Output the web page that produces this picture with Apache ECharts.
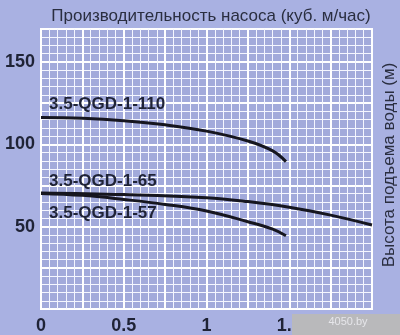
<!DOCTYPE html>
<html><head><meta charset="utf-8">
<script src="https://cdn.jsdelivr.net/npm/echarts@6/dist/echarts.min.js"></script>
<style>html,body{margin:0;padding:0;background:#a9b1e2;}#c{width:400px;height:335px;}</style>
</head><body><div id="c"></div>
<script>
var titleText = 'Производительность насоса (куб. м/час)';
var yTitleText = 'Высота подъема воды (м)';
var xLabels = [0, 0.5, 1, 1.5, 2];
var yLabels = [50, 100, 150];
var seriesNames = ['3.5-QGD-1-110', '3.5-QGD-1-65', '3.5-QGD-1-57'];
var s110 = [[0,116.3],[0.25,115.8],[0.5,114.3],[0.75,111.8],[1.0,108],[1.25,102],[1.4,96],[1.48,89.5]];
var s65  = [[0,70.5],[0.5,69.5],[1.0,67.6],[1.25,65.2],[1.5,61.8],[1.75,57],[2.0,51]];
var s57  = [[0,70.2],[0.25,69],[0.5,66.5],[0.75,63.5],[1.0,59.5],[1.25,53],[1.4,48.5],[1.48,44.5]];

var textColor = '#1f2336';
var lineColor = '#16161f';
var chart = echarts.init(document.getElementById('c'), null, {renderer:'canvas'});
function isLabel(v, arr){ for (var i=0;i<arr.length;i++){ if (Math.abs(v-arr[i])<1e-6) return true;} return false; }
chart.setOption({
  animation:false,
  backgroundColor:'#a9b1e2',
  title:{text:titleText, left:206, textAlign:'center', top:3,
    textStyle:{fontFamily:'Liberation Sans', fontWeight:'normal', fontSize:17, color:'#2a2e40'}},
  grid:{left:41, top:29, right:28, bottom:25, show:true, backgroundColor:'#a2aadb', borderColor:'#ffffff', borderWidth:2},
  xAxis:[{type:'value', min:0, max:2, interval:0.05,
    axisLine:{show:false}, axisTick:{show:false},
    axisLabel:{margin:8, fontFamily:'Liberation Sans', fontWeight:'bold', fontSize:18, color:textColor,
      formatter:function(v){ return isLabel(v,xLabels) ? String(Math.round(v*10)/10) : ''; }},
    splitLine:{show:true, lineStyle:{color:'#f4f6ff', width:1}}},
   {type:'value', min:0, max:2, interval:0.25, position:'top',
    axisLine:{show:false}, axisTick:{show:false}, axisLabel:{show:false},
    splitLine:{show:true, lineStyle:{color:'#ffffff', width:2}}}],
  yAxis:[{type:'value', min:0, max:170, interval:5,
    axisLine:{show:false}, axisTick:{show:false},
    axisLabel:{margin:6, fontFamily:'Liberation Sans', fontWeight:'bold', fontSize:18, color:textColor,
      formatter:function(v){ return isLabel(v,yLabels) ? String(v) : ''; }},
    splitLine:{show:true, lineStyle:{color:'#f4f6ff', width:1}}},
   {type:'value', min:0, max:170, interval:25, position:'right',
    axisLine:{show:false}, axisTick:{show:false}, axisLabel:{show:false},
    splitLine:{show:true, lineStyle:{color:'#ffffff', width:2}}}],
  series:[s110, s65, s57].map(function(d,i){
    return {type:'line', name:seriesNames[i], data:d, smooth:0.4, symbol:'none',
      lineStyle:{color:lineColor, width:3}, z:5};
  }),
  graphic:[
    {type:'text', left:49, top:96, z:60, style:{text:seriesNames[0], font:'bold 17px "Liberation Sans"', fill:textColor}},
    {type:'text', left:49, top:173, z:60, style:{text:seriesNames[1], font:'bold 17px "Liberation Sans"', fill:textColor}},
    {type:'text', left:49, top:205, z:60, style:{text:seriesNames[2], font:'bold 17px "Liberation Sans"', fill:textColor}},
    {type:'text', x:389, y:165, rotation:Math.PI/2, z:60, style:{text:yTitleText, font:'17px "Liberation Sans"', fill:'#2a2e40', textAlign:'center', textVerticalAlign:'middle'}},
    {type:'rect', shape:{x:292, y:314, width:108, height:21}, style:{fill:'#b9b9bb'}, z:100},
    {type:'text', x:348, y:322, style:{text:'4050.by', font:'11px "Liberation Sans"', fill:'#e6e6ea', textAlign:'center', textVerticalAlign:'middle'}, z:101}
  ]
});
</script></body></html>
